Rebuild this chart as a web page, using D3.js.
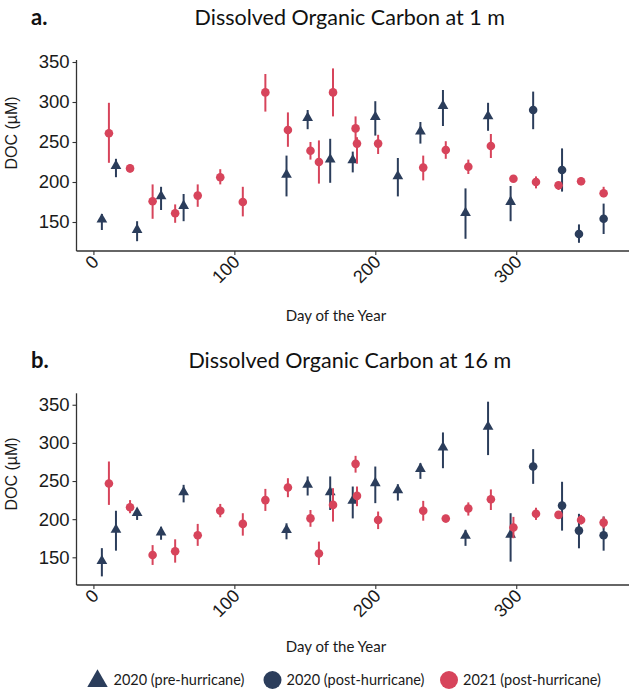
<!DOCTYPE html>
<html><head><meta charset="utf-8">
<script src="https://cdn.jsdelivr.net/npm/d3@7"></script>
<style>body{margin:0;background:#fff}</style>
</head><body><svg id="c" width="629" height="691"></svg>
<script>
// ---------- data ----------
const seriesNames = ["2020 (pre-hurricane)", "2020 (post-hurricane)", "2021 (post-hurricane)"];
const panelTitles = ["Dissolved Organic Carbon at 1 m", "Dissolved Organic Carbon at 16 m"];
const panelLetters = ["a.", "b."];
const xTicks = [0, 100, 200, 300];
const yTicks = [150, 200, 250, 300, 350];

// Panel a (1 m)
const a_pre_day = [6, 16, 31, 48, 64, 137, 152, 168, 184, 200, 216, 232, 248, 264, 280, 296];
const a_pre_doc = [152, 219, 139, 181, 169, 208, 279, 227, 226, 280, 206, 262, 294, 160, 281, 174];
const a_pre_lo  = [140, 206, 126, 165, 151, 182, 266, 199, 212, 258, 182, 248, 270, 129, 264, 151];
const a_pre_hi  = [160, 229, 151, 194, 185, 233, 290, 254, 238, 301, 230, 275, 315, 192, 299, 195];

const a_post_day = [312, 332.5, 344.5, 362];
const a_post_doc = [290, 215, 135, 154];
const a_post_lo  = [266, 188, 124, 135];
const a_post_hi  = [313, 242, 147, 173];

const a_21_day = [11, 26, 42, 58, 74, 90, 106, 122, 138, 154, 160, 170, 186, 187, 202, 234, 250, 266, 282, 298, 314, 330, 346, 362];
const a_21_doc = [261, 217, 176, 161, 183, 206, 175, 312, 265, 239, 225, 312, 267, 248, 248, 218, 240, 219, 245, 204, 200, 196, 201, 186];
const a_21_lo  = [224, 212, 154, 149, 169, 197, 157, 288, 244, 228, 198, 282, 252, 223, 235, 202, 229, 210, 230, 200, 192, 190, 196, 181];
const a_21_hi  = [299, 222, 197, 172, 197, 216, 194, 335, 287, 250, 252, 342, 282, 256, 259, 233, 251, 228, 260, 208, 207, 200, 206, 194];

// Panel b (16 m)
const b_pre_day = [6, 16, 31, 48, 64, 137, 152, 168, 184, 200, 216, 232, 248, 264, 280, 296];
const b_pre_doc = [144, 185, 207, 181.5, 234, 184.6, 244, 234, 223, 246, 236.6, 264.7, 292.7, 177, 320, 178.4];
const b_pre_lo  = [125, 158.7, 199, 173, 222, 173.6, 231, 212, 201, 221, 224.4, 252.8, 266.8, 165, 284, 144.3];
const b_pre_hi  = [162, 211, 212, 190, 245, 194.6, 256, 256, 242.8, 269, 245.8, 273.4, 313.7, 186, 354, 207.8];

const b_post_day = [312, 332.5, 344.5, 362];
const b_post_doc = [269, 217.8, 185, 179];
const b_post_lo  = [246.3, 185, 161.8, 158.7];
const b_post_hi  = [291.8, 249, 207, 203.4];

const b_21_day = [11, 26, 42, 58, 74, 90, 106, 122, 138, 154, 160, 170, 186, 187, 202, 234, 250, 266, 282, 298, 314, 330, 346, 362];
const b_21_doc = [246.7, 215.6, 153, 158, 179, 211, 193.8, 225, 241.5, 201, 155, 218.7, 272.5, 230.5, 199, 211, 200.8, 214, 226, 189, 207, 205.6, 199, 195.5];
const b_21_lo  = [218.7, 207.8, 140, 143, 165, 202.5, 178.4, 210.8, 228.8, 190, 140, 196.8, 261, 217, 187, 198, 195.5, 204.7, 212, 175, 199, 201, 193, 188];
const b_21_hi  = [275.6, 225, 166, 173.6, 193.8, 220, 207.8, 239.7, 253.7, 212, 170.6, 240.6, 283, 242.8, 210, 224, 205.6, 222, 239, 203, 215, 210, 205.6, 203.4];

// ---------- styling ----------
const colors = ["#2b3d5b", "#2b3d5b", "#d7445b"];
const shapes = ["triangle", "circle", "circle"];
const sansTick = "'Liberation Sans', Arial, sans-serif";
const sansTitle = "Lato, 'Open Sans', sans-serif";

function zip(d, v, lo, hi) { return d.map((x, i) => ({day: x, doc: v[i], lo: lo[i], hi: hi[i]})); }

const panels = [
  {
    series: [zip(a_pre_day, a_pre_doc, a_pre_lo, a_pre_hi), zip(a_post_day, a_post_doc, a_post_lo, a_post_hi), zip(a_21_day, a_21_doc, a_21_lo, a_21_hi)],
    yDomain: [113.75, 352.5], top: 60, bottom: 251, titleY: 25, yTitleY: 133, xTitleY: 321
  },
  {
    series: [zip(b_pre_day, b_pre_doc, b_pre_lo, b_pre_hi), zip(b_post_day, b_post_doc, b_post_lo, b_post_hi), zip(b_21_day, b_21_doc, b_21_lo, b_21_hi)],
    yDomain: [113.7, 365], top: 393.3, bottom: 585, titleY: 368, yTitleY: 474, xTitleY: 652
  }
];

const svg = d3.select("#c");
const left = 76.5, right = 629;
const x = d3.scaleLinear().domain([-12, 380]).range([left, right]);
const triSym = d3.symbol().type(d3.symbolTriangle).size(50);

panels.forEach((p, pi) => {
  const y = d3.scaleLinear().domain(p.yDomain).range([p.bottom, p.top]);
  const g = svg.append("g");

  // titles
  g.append("text").attr("x", 31).attr("y", p.titleY).text(panelLetters[pi])
    .attr("font-family", sansTitle).attr("font-weight", "bold").attr("font-size", 22).attr("fill", "#111");
  g.append("text").attr("x", (left + right) / 2 - 3).attr("y", p.titleY).attr("text-anchor", "middle")
    .text(panelTitles[pi]).attr("font-family", sansTitle).attr("font-size", 21.5).attr("fill", "#111");

  // axes
  const xa = g.append("g").attr("transform", `translate(0,${p.bottom})`)
    .call(d3.axisBottom(x).tickValues(xTicks).tickSize(4).tickSizeOuter(0).tickFormat(d3.format("d")));
  xa.select(".domain").attr("stroke", "#333").attr("stroke-width", 1.3).attr("d", `M${left},0H${right}`);
  xa.selectAll(".tick line").attr("stroke", "#333").attr("stroke-width", 1.1);
  xa.selectAll(".tick text").attr("font-family", sansTick).attr("font-size", 18).attr("fill", "#1a1a1a")
    .attr("text-anchor", "end").attr("dy", 0).attr("y", 0)
    .attr("transform", "translate(6,12) rotate(-45)");

  const ya = g.append("g").attr("transform", `translate(${left},0)`)
    .call(d3.axisLeft(y).tickValues(yTicks).tickSize(4).tickSizeOuter(0));
  ya.select(".domain").attr("stroke", "#333").attr("stroke-width", 1.3).attr("d", `M0,${p.top}V${p.bottom}`);
  ya.selectAll(".tick line").attr("stroke", "#333").attr("stroke-width", 1.1);
  ya.selectAll(".tick text").attr("font-family", sansTick).attr("font-size", 18.5).attr("fill", "#1a1a1a").attr("x", -7);

  g.append("text").attr("transform", `translate(17,${p.yTitleY}) rotate(-90)`).attr("text-anchor", "middle")
    .text("DOC (µM)").attr("font-family", sansTick).attr("font-size", 16).attr("fill", "#1a1a1a");
  g.append("text").attr("x", 336).attr("y", p.xTitleY).attr("text-anchor", "middle")
    .text("Day of the Year").attr("font-family", sansTitle).attr("font-size", 15).attr("fill", "#1a1a1a");

  // data
  p.series.forEach((s, si) => {
    const sg = g.append("g");
    sg.selectAll("line").data(s).join("line")
      .attr("x1", d => x(d.day)).attr("x2", d => x(d.day))
      .attr("y1", d => y(d.lo)).attr("y2", d => y(d.hi))
      .attr("stroke", colors[si]).attr("stroke-width", 2);
    if (shapes[si] === "triangle") {
      sg.selectAll("path.pt").data(s).join("path").attr("class", "pt")
        .attr("d", triSym).attr("transform", d => `translate(${x(d.day)},${y(d.doc) - 1})`)
        .attr("fill", colors[si]);
    } else {
      sg.selectAll("circle").data(s).join("circle")
        .attr("cx", d => x(d.day)).attr("cy", d => y(d.doc)).attr("r", 4.3)
        .attr("fill", colors[si]);
    }
  });
});

// legend
const legX = [97.5, 272.5, 449];
const legY = 680;
const lg = svg.append("g");
seriesNames.forEach((n, i) => {
  if (shapes[i] === "triangle") {
    lg.append("path").attr("d", d3.symbol().type(d3.symbolTriangle).size(180)())
      .attr("transform", `translate(${legX[i]},${legY + 1})`).attr("fill", colors[i]);
  } else {
    lg.append("circle").attr("cx", legX[i]).attr("cy", legY).attr("r", 9).attr("fill", colors[i]);
  }
  lg.append("text").attr("x", legX[i] + (i === 0 ? 16 : 14)).attr("y", legY + 5).text(n)
    .attr("font-family", sansTitle).attr("font-size", 14.5).attr("fill", "#1a1a1a");
});
</script></body></html>
